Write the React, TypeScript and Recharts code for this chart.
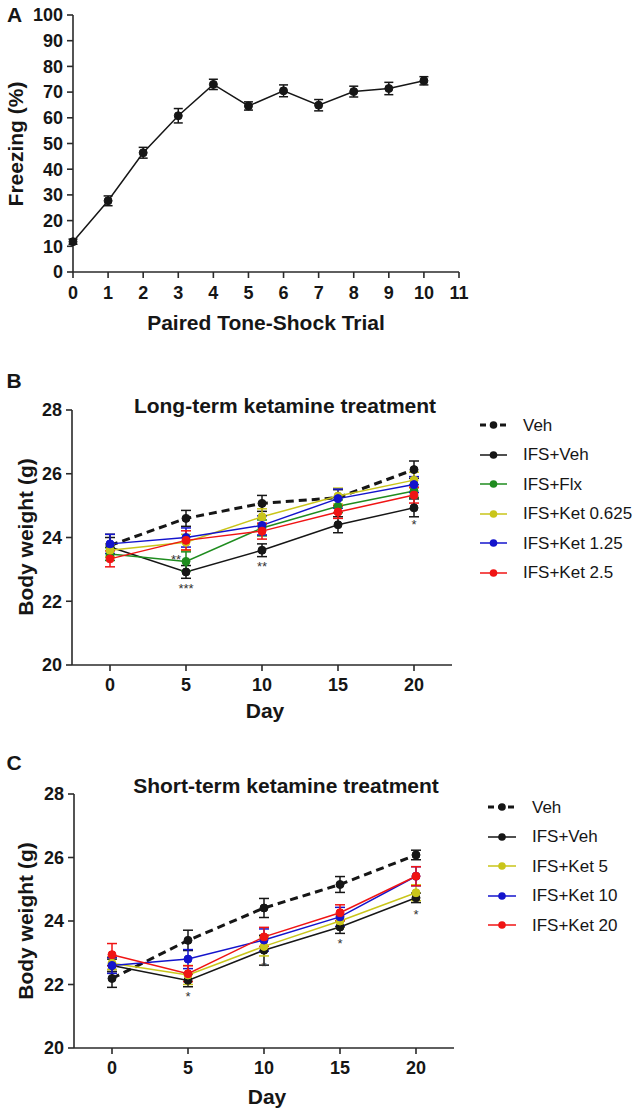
import React from "react";
import { ErrorBar, LabelList, Line, LineChart, XAxis, YAxis } from "recharts";

const FONT = '"Liberation Sans", Arial, Helvetica, sans-serif';
const INK = "#161616";
const AXIS = "#2a2a2a";

// ---- panel A: freezing during conditioning
const trials = [0, 1, 2, 3, 4, 5, 6, 7, 8, 9, 10];
const freezeMean = [11.8, 27.7, 46.4, 60.8, 73.0, 64.6, 70.5, 64.9, 70.2, 71.4, 74.4];
const freezeSem = [1.0, 1.9, 2.1, 2.8, 2.0, 1.6, 2.3, 2.2, 2.1, 2.4, 1.6];
const trialTicks = [0, 1, 2, 3, 4, 5, 6, 7, 8, 9, 10, 11];
const freezeTicks = [0, 10, 20, 30, 40, 50, 60, 70, 80, 90, 100];

// ---- panels B & C: body weight
const days = [0, 5, 10, 15, 20];
const weightTicks = [20, 22, 24, 26, 28];

const longNames = ["Veh", "IFS+Veh", "IFS+Flx", "IFS+Ket 0.625", "IFS+Ket 1.25", "IFS+Ket 2.5"];
const longColors = [INK, INK, "#1f8c1f", "#c9c51a", "#1414cc", "#f01414"];
const longVeh = [23.75, 24.6, 25.07, 25.25, 26.13];
const longVehSem = [0.35, 0.25, 0.25, 0.25, 0.27];
const longIfsVeh = [23.7, 22.92, 23.6, 24.4, 24.93];
const longIfsVehSem = [0.3, 0.2, 0.2, 0.25, 0.28];
const longFlx = [23.48, 23.25, 24.3, 24.98, 25.46];
const longFlxSem = [0.2, 0.3, 0.25, 0.2, 0.2];
const longKet0625 = [23.6, 23.85, 24.65, 25.3, 25.8];
const longKet0625Sem = [0.2, 0.25, 0.25, 0.25, 0.25];
const longKet125 = [23.8, 24.0, 24.38, 25.22, 25.66];
const longKet125Sem = [0.3, 0.3, 0.3, 0.3, 0.25];
const longKet25 = [23.33, 23.91, 24.2, 24.8, 25.33];
const longKet25Sem = [0.25, 0.3, 0.25, 0.2, 0.25];
const longStarsIfsVeh = ["", "***", "**", "", "*"];
const longStarsFlx = ["", "**", "", "", ""];

const shortNames = ["Veh", "IFS+Veh", "IFS+Ket 5", "IFS+Ket 10", "IFS+Ket 20"];
const shortColors = [INK, INK, "#c9c51a", "#1414cc", "#f01414"];
const shortVeh = [22.19, 23.39, 24.41, 25.15, 26.08];
const shortVehSem = [0.28, 0.32, 0.3, 0.25, 0.15];
const shortIfsVeh = [22.6, 22.13, 23.08, 23.81, 24.73];
const shortIfsVehSem = [0.2, 0.2, 0.47, 0.2, 0.15];
const shortKet5 = [22.67, 22.3, 23.2, 24.0, 24.89];
const shortKet5Sem = [0.2, 0.3, 0.3, 0.2, 0.25];
const shortKet10 = [22.6, 22.8, 23.4, 24.13, 25.41];
const shortKet10Sem = [0.25, 0.3, 0.35, 0.3, 0.3];
const shortKet20 = [22.94, 22.34, 23.5, 24.26, 25.41];
const shortKet20Sem = [0.35, 0.25, 0.3, 0.25, 0.3];
const shortStarsIfsVeh = ["", "*", "*", "*", "*"];
const shortStarsNone = ["", "", "", "", ""];

const dataA = trials.map((t, i) => ({ trial: t, mean: freezeMean[i], sem: freezeSem[i] }));

function buildRows(means: number[][], sems: number[][], below: string[], left: string[]) {
  return days.map((d, i) => {
    const row: Record<string, number | string> = { day: d, below: below[i], left: left[i] };
    means.forEach((m, k) => {
      row["m" + k] = m[i];
      row["e" + k] = sems[k][i];
    });
    return row;
  });
}

const dataB = buildRows(
  [longVeh, longIfsVeh, longFlx, longKet0625, longKet125, longKet25],
  [longVehSem, longIfsVehSem, longFlxSem, longKet0625Sem, longKet125Sem, longKet25Sem],
  longStarsIfsVeh,
  longStarsFlx,
);
const dataC = buildRows(
  [shortVeh, shortIfsVeh, shortKet5, shortKet10, shortKet20],
  [shortVehSem, shortIfsVehSem, shortKet5Sem, shortKet10Sem, shortKet20Sem],
  shortStarsIfsVeh,
  shortStarsNone,
);

const tickFont = { fontSize: 18, fontWeight: 700, fill: INK, fontFamily: FONT };

function Text({ x, y, size, bold = true, rotate = false, children }: any) {
  // x/y = centre of the text line
  return (
    <div
      style={{
        position: "absolute",
        left: x,
        top: y,
        transform: `translate(-50%, -50%)${rotate ? " rotate(-90deg)" : ""}`,
        fontFamily: FONT,
        fontSize: size,
        fontWeight: bold ? 700 : 400,
        lineHeight: 1,
        whiteSpace: "nowrap",
        color: INK,
      }}
    >
      {children}
    </div>
  );
}

function starBelow(p: any) {
  if (!p.value) return null;
  return (
    <text x={p.x} y={p.y + 21} textAnchor="middle" fontSize={13} fill="#333" fontFamily={FONT}>
      {p.value}
    </text>
  );
}

function starLeft(p: any) {
  if (!p.value) return null;
  return (
    <text x={p.x - 5} y={p.y + 3} textAnchor="end" fontSize={13} fill="#333" fontFamily={FONT}>
      {p.value}
    </text>
  );
}

function Legend({ names, colors, left, top, iconW, gap }: any) {
  return (
    <div style={{ position: "absolute", left, top, fontFamily: FONT, fontSize: 17, color: INK }}>
      {names.map((n: string, i: number) => (
        <div key={n} style={{ display: "flex", alignItems: "center", height: 29.5 }}>
          <svg width={iconW} height={12} style={{ marginRight: gap, overflow: "visible" }}>
            <line
              x1={0}
              x2={iconW}
              y1={6}
              y2={6}
              stroke={colors[i]}
              strokeWidth={i === 0 ? 3 : 1.5}
              strokeDasharray={i === 0 ? "6 4" : undefined}
            />
            <circle cx={iconW / 2} cy={6} r={3.8} fill={colors[i]} />
          </svg>
          <span style={{ lineHeight: 1 }}>{n}</span>
        </div>
      ))}
    </div>
  );
}

function WeightChart({ data, names, colors, top, height, plotTop, xHeight, yWidth, leftKey }: any) {
  return (
    <div style={{ position: "absolute", left: 0, top }}>
      <LineChart
        width={638}
        height={height}
        data={data}
        margin={{ top: plotTop, right: 638 - yWidth - 380, bottom: 0, left: 0 }}
      >
        <XAxis
          dataKey="day"
          type="number"
          domain={[-2.5, 22.5]}
          ticks={days}
          interval={0}
          height={xHeight}
          tick={tickFont}
          tickSize={6}
          tickMargin={7}
          axisLine={{ stroke: AXIS, strokeWidth: 1.6 }}
          tickLine={{ stroke: AXIS, strokeWidth: 1.6 }}
        />
        <YAxis
          type="number"
          domain={[20, 28]}
          ticks={weightTicks}
          interval={0}
          width={yWidth}
          tick={tickFont}
          tickSize={6}
          tickMargin={4}
          axisLine={{ stroke: AXIS, strokeWidth: 1.6 }}
          tickLine={{ stroke: AXIS, strokeWidth: 1.6 }}
        />
        {names.map((n: string, k: number) => (
          <Line
            key={n}
            name={n}
            dataKey={"m" + k}
            stroke={colors[k]}
            strokeWidth={k === 0 ? 3 : 1.5}
            strokeDasharray={k === 0 ? "8 5" : undefined}
            dot={{ r: 4, fill: colors[k], stroke: colors[k], strokeWidth: 1, strokeDasharray: "" }}
            isAnimationActive={false}
          >
            <ErrorBar dataKey={"e" + k} width={5} stroke={colors[k]} strokeWidth={1.5} direction="y" />
            {k === 1 && <LabelList dataKey="below" content={starBelow} />}
            {k === leftKey && <LabelList dataKey="left" content={starLeft} />}
          </Line>
        ))}
      </LineChart>
    </div>
  );
}

export default function App() {
  return (
    <div style={{ position: "absolute", left: 0, top: 0, width: 638, height: 1116, background: "#fff" }}>
      {/* Panel A */}
      <div style={{ position: "absolute", left: 0, top: 0 }}>
        <LineChart width={638} height={340} data={dataA} margin={{ top: 15, right: 179, bottom: 0, left: 0 }}>
          <XAxis
            dataKey="trial"
            type="number"
            domain={[0, 11]}
            ticks={trialTicks}
            interval={0}
            height={68}
            tick={tickFont}
            tickSize={6}
            tickMargin={8}
            axisLine={{ stroke: AXIS, strokeWidth: 1.6 }}
            tickLine={{ stroke: AXIS, strokeWidth: 1.6 }}
          />
          <YAxis
            type="number"
            domain={[0, 100]}
            ticks={freezeTicks}
            interval={0}
            width={73}
            tick={tickFont}
            tickSize={6}
            tickMargin={4}
            axisLine={{ stroke: AXIS, strokeWidth: 1.6 }}
            tickLine={{ stroke: AXIS, strokeWidth: 1.6 }}
          />
          <Line
            dataKey="mean"
            stroke={INK}
            strokeWidth={1.5}
            dot={{ r: 4, fill: INK, stroke: INK, strokeWidth: 1 }}
            isAnimationActive={false}
          >
            <ErrorBar dataKey="sem" width={4.5} stroke={INK} strokeWidth={1.5} direction="y" />
          </Line>
        </LineChart>
      </div>
      <Text x={14.5} y={14} size={21}>A</Text>
      <Text x={15} y={144} size={21} rotate>Freezing (%)</Text>
      <Text x={266} y={322} size={21}>Paired Tone-Shock Trial</Text>

      {/* Panel B */}
      <WeightChart
        data={dataB}
        names={longNames}
        colors={longColors}
        top={380}
        height={340}
        plotTop={30}
        xHeight={55}
        yWidth={72}
        leftKey={2}
      />
      <Text x={14} y={380} size={21}>B</Text>
      <Text x={285} y={405} size={21}>Long-term ketamine treatment</Text>
      <Text x={25} y={537} size={21} rotate>Body weight (g)</Text>
      <Text x={265} y={710} size={21}>Day</Text>
      <Legend names={longNames} colors={longColors} left={480} top={410.25} iconW={27} gap={16} />

      {/* Panel C */}
      <WeightChart
        data={dataC}
        names={shortNames}
        colors={shortColors}
        top={760}
        height={356}
        plotTop={34}
        xHeight={68}
        yWidth={74}
        leftKey={-1}
      />
      <Text x={14} y={762} size={21}>C</Text>
      <Text x={286} y={785} size={21}>Short-term ketamine treatment</Text>
      <Text x={25} y={921} size={21} rotate>Body weight (g)</Text>
      <Text x={267} y={1096} size={21}>Day</Text>
      <Legend names={shortNames} colors={shortColors} left={488} top={792.5} iconW={28} gap={16} />
    </div>
  );
}
